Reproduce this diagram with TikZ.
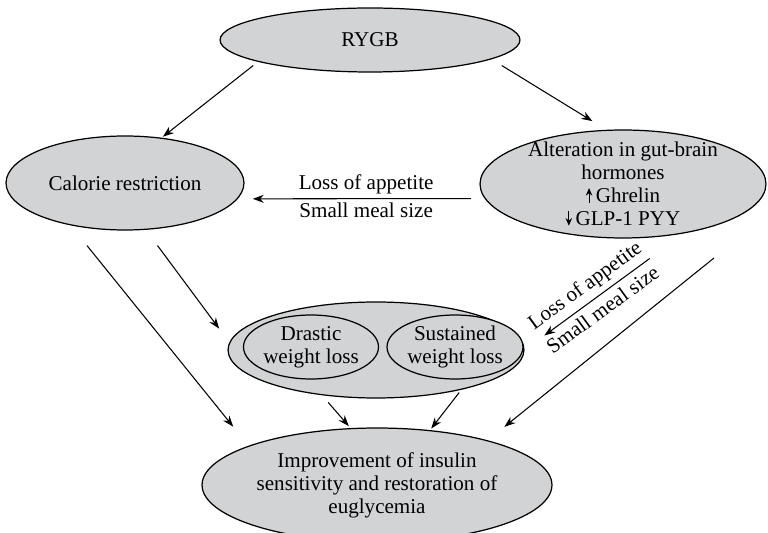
\documentclass[tikz,border=0pt]{standalone}
\usepackage{fontspec}
\setmainfont{Liberation Serif}
\usetikzlibrary{shapes.geometric,arrows.meta}
\definecolor{ellgray}{RGB}{210,211,213}
\tikzset{
	bubble/.style={ellipse, draw, fill=ellgray, line width=0.7pt, inner sep=0pt, align=center, font=\fontsize{12}{13.1}\selectfont},
	arr/.style={-{Stealth[length=2.2mm,width=1.6mm]}, line width=0.6pt},
	lbl/.style={font=\fontsize{12}{13.1}\selectfont, inner sep=2.3pt}
}
% small arrows in front of the hormone names
\newcommand{\hup}{\tikz[x=1cm,y=1cm,baseline=0pt]\draw[line width=0.5pt,-{Stealth[length=1.5mm,width=1.3mm]}] (0,0)--(0,0.29);\,}
\newcommand{\hdown}{\tikz[x=1cm,y=1cm,baseline=0pt]\draw[line width=0.5pt,-{Stealth[length=1.5mm,width=1.3mm]}] (0,0.29)--(0,0);\,}
\begin{document}
\begin{tikzpicture}[x=0.02cm, y=-0.02cm]
	\useasboundingbox (0,0) rectangle (768,533);
	\coordinate (hormfoot) at (714,258);

	\node[bubble, minimum width=6cm, minimum height=1.28cm] (rygb) at (370,40) {RYGB};
	\node[bubble, minimum width=4.76cm, minimum height=1.88cm] (calorie) at (125,183) {Calorie restriction};
	\node[bubble, inner ysep=-4pt, minimum width=5.72cm, minimum height=2.16cm] (hormones) at (623,184)
		{Alteration in gut-brain\\hormones\\\hup Ghrelin\\\hdown GLP-1 PYY};

	% weight loss group
	\node[bubble, minimum width=5.92cm, minimum height=1.92cm] (weight) at (376,350) {};
	\node[bubble, minimum width=2.68cm, minimum height=1.28cm] (drastic) at (311,347) {Drastic\\weight loss};
	\node[bubble, minimum width=2.72cm, minimum height=1.28cm] (sustained) at (455,347) {Sustained\\weight loss};

	\node[bubble, minimum width=7cm, minimum height=2.28cm] (improve) at (377,485)
		{Improvement of insulin\\sensitivity and restoration of\\euglycemia};

	% arrows
	\draw[arr, shorten <=0.12cm, shorten >=0.03cm] (rygb.191) -- (calorie.51);
	\draw[arr, shorten <=0.24cm, shorten >=0.33cm] (rygb.351) -- (hormones.107);
	\draw[arr, shorten <=0.27cm, shorten >=0.3cm] (hormones.186) -- (calorie.352)
		node[lbl, pos=.48, above] {Loss of appetite}
		node[lbl, pos=.48, below] {Small meal size};
	\draw[arr, shorten <=0.85cm, shorten >=0.49cm] (hormones.321) -- (weight.0)
		node[lbl, inner sep=3pt, pos=.56, sloped, above] {Loss of appetite}
		node[lbl, inner sep=3pt, pos=.56, sloped, below] {Small meal size};
	\draw[arr, shorten <=0.39cm, shorten >=0.34cm] (calorie.294) -- (weight.177);
	\draw[arr, shorten <=0.52cm, shorten >=0.49cm] (calorie.218) -- (improve.163);
	\draw[arr, shorten <=0.19cm, shorten >=0.05cm] (weight.220) -- (improve.115);
	\draw[arr, shorten <=0.07cm, shorten >=0.04cm] (weight.335) -- (improve.46);
	\draw[arr, shorten >=0.43cm] (hormfoot) -- (improve.22);
\end{tikzpicture}
\end{document}
